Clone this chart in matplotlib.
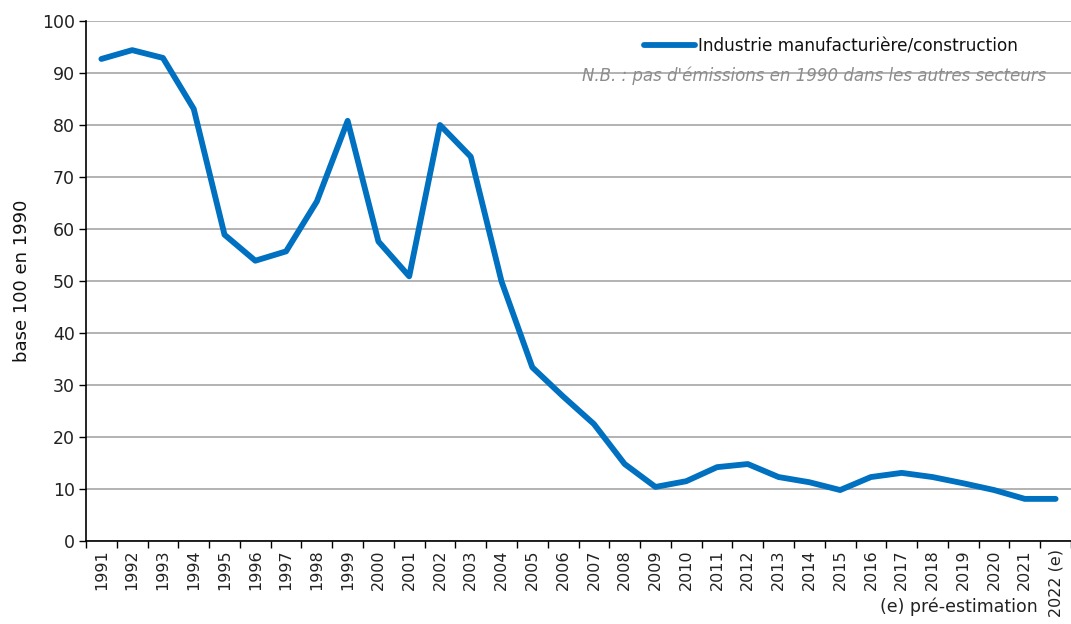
import matplotlib
matplotlib.use("Agg")
import matplotlib.pyplot as plt
from matplotlib.ticker import FixedLocator
from matplotlib import font_manager

years = [str(y) for y in range(1991, 2022)] + ["2022 (e)"]
values = [92.7, 94.4, 92.9, 83.1, 58.9, 53.9, 55.7, 65.3, 80.8, 57.6,
          50.9, 80.0, 73.9, 49.9, 33.4, 27.8, 22.5, 14.8, 10.4, 11.5,
          14.2, 14.8, 12.3, 11.3, 9.8, 12.3, 13.1, 12.3, 11.1, 9.8,
          8.1, 8.1]
series_label = "Industrie manufacturière/construction"
note = "N.B. : pas d'émissions en 1990 dans les autres secteurs"
ylabel = "base 100 en 1990"
footnote = "(e) pré-estimation"

available = {f.name for f in font_manager.fontManager.ttflist}
narrow = [f for f in ["Liberation Sans Narrow", "DejaVu Sans Condensed"] if f in available]
plt.rcParams["font.family"] = narrow + ["DejaVu Sans"]

fig = plt.figure(figsize=(10.71, 6.24), dpi=100)
ax = fig.add_axes([86 / 1071, 83 / 624, 985 / 1071, 520 / 624])

x = list(range(len(years)))
line, = ax.plot(x, values, color="#0070C0", lw=4.2, solid_joinstyle="round",
                solid_capstyle="round", label=series_label)

ax.set_xlim(-0.5, len(years) - 0.5)
ax.set_ylim(0, 100)
ax.set_yticks(range(0, 101, 10))
ax.yaxis.grid(True, color="#A6A6A6", lw=1.2)
ax.set_axisbelow(True)

ax.set_xticks(x)
ax.set_xticklabels(years, rotation=90, fontsize=11.5, color="#222222")
ax.xaxis.set_minor_locator(FixedLocator([i - 0.5 for i in range(len(years) + 1)]))
ax.tick_params(axis="x", which="major", length=0, pad=6)
ax.tick_params(axis="x", which="minor", length=5, width=1, color="black")
ax.tick_params(axis="y", length=5, width=1, labelsize=12.5, labelcolor="#222222", pad=3)

for side in ("top", "right"):
    ax.spines[side].set_visible(False)
for side in ("left", "bottom"):
    ax.spines[side].set_color("black")
    ax.spines[side].set_linewidth(1.2)

ax.set_ylabel(ylabel, fontsize=13, color="#111111", labelpad=8)

leg = ax.legend(handles=[line], loc="upper right", bbox_to_anchor=(0.953, 0.982),
                frameon=False, fontsize=12.2, handlelength=3.0, handletextpad=0.2,
                borderaxespad=0)
for t in leg.get_texts():
    t.set_color("#111111")

ax.text(0.975, 0.895, note, transform=ax.transAxes, ha="right", va="center",
        fontsize=12, style="italic", color="#8C8C8C")

fig.text(1038 / 1071, 1 - 607 / 624, footnote, ha="right", va="center",
         fontsize=12.5, color="#222222")

fig.savefig("out.png", dpi=100)
